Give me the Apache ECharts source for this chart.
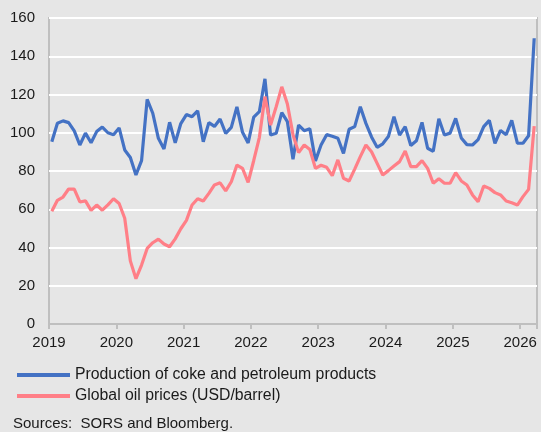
<!DOCTYPE html>
<html>
<head>
<meta charset="utf-8">
<script src="https://cdn.jsdelivr.net/npm/echarts@6/dist/echarts.min.js"></script>
<style>
  html, body { margin: 0; padding: 0; background: #e6e6e6; }
  #chart { width: 541px; height: 432px; }
</style>
</head>
<body>
<div id="chart"></div>
<script>
// monthly data, Jan 2019 .. Mar 2026
var startYear = 2019;
var yearLabels = ['2019', '2020', '2021', '2022', '2023', '2024', '2025', '2026'];

var production = [
  95.3, 105, 106.2, 105.3, 101, 93.6, 99.8, 94.8, 100.6, 103, 100, 99,
  102.5, 91, 87.1, 77.9, 85.4, 117.5, 110.2, 97.1, 91.5, 105.5, 94.7, 104.8,
  109.5, 108.4, 111.5, 95.3, 105.3, 103.3, 107.2, 99.7, 102.8, 113.5, 100.2, 94.7,
  108.2, 111, 128.2, 98.8, 99.7, 110.5, 105.8, 86.1, 104, 101.1, 102.1, 85.3,
  93.6, 99, 98.2, 97.1, 89.2, 101.8, 103.2, 113.6, 104.9, 97.8, 92.4, 94.2,
  98, 108.4, 98.8, 103.2, 93.3, 95.8, 105.4, 91.9, 90.3, 107.3, 98.8, 99.8,
  107.5, 97.3, 93.8, 93.6, 96.4, 103.2, 106.5, 94.5, 101.2, 99, 106.5, 94.6,
  94.5, 98.4, 149.4
];

var oilPrice = [
  59, 64.7, 66.4, 70.6, 70.5, 63.8, 64.4, 59.4, 62.2, 59.5, 62.3, 65.5,
  63, 55.3, 33, 23.7, 30.8, 39.5, 42.5, 44.4, 41.8, 40.4, 44.5, 49.8,
  54.2, 62.2, 65.5, 64.3, 68.3, 72.7, 73.8, 69.6, 74.4, 83.1, 81.4, 74,
  85.5, 97.5, 118.9, 104, 113.6, 124, 115, 99, 89.6, 93.6, 91.3, 81.4,
  83, 81.9, 77.6, 85.8, 76.2, 74.8, 81, 87.5, 93.6, 90.1, 84, 77.9,
  80.2, 82.6, 84.9, 90.5, 82.3, 82.3, 85.4, 81.4, 73.6, 76, 73.6, 73.6,
  79.1, 74.8, 72.7, 67.5, 64, 72.2, 70.9, 68.7, 67.5, 64.3, 63.4, 62.2,
  66.6, 70.4, 103.5
];

function toPoints(arr) {
  var out = [];
  for (var i = 0; i < arr.length; i++) {
    out.push([i + 0.5, arr[i]]);
  }
  return out;
}

var font = 'Liberation Sans, Arial, sans-serif';
var gray = '#bfbfbf';

var option = {
  animation: false,
  backgroundColor: '#e6e6e6',
  textStyle: { fontFamily: font },
  title: {
    text: 'Sources:  SORS and Bloomberg.',
    left: 13,
    top: 416,
    padding: 0,
    textStyle: { fontSize: 15, fontWeight: 'normal', color: '#1a1a1a', fontFamily: font }
  },
  legend: {
    orient: 'vertical',
    left: 17,
    top: 367,
    padding: 0,
    itemGap: 5,
    itemWidth: 53,
    itemHeight: 4,
    icon: 'rect',
    textStyle: { fontSize: 15.8, color: '#1a1a1a', fontFamily: font },
    data: ['Production of coke and petroleum products', 'Global oil prices (USD/barrel)']
  },
  grid: {
    left: 49,
    right: 4,
    top: 18,
    bottom: 108,
    show: true,
    backgroundColor: '#e6e6e6',
    borderColor: gray,
    borderWidth: 2
  },
  xAxis: {
    type: 'value',
    min: 0,
    max: 87,
    interval: 12,
    axisLine: { show: true, lineStyle: { color: gray, width: 2 } },
    axisTick: { show: true, length: 5, lineStyle: { color: gray, width: 2 } },
    splitLine: { show: false },
    axisLabel: {
      margin: 11,
      fontSize: 15,
      color: '#1a1a1a',
      fontFamily: font,
      formatter: function (v) {
        if (v % 12 !== 0) return '';
        return yearLabels[v / 12] || '';
      }
    }
  },
  yAxis: {
    type: 'value',
    min: 0,
    max: 160,
    interval: 20,
    axisLine: { show: false },
    axisTick: { show: false },
    splitLine: { show: true, lineStyle: { color: '#ffffff', width: 2 } },
    axisLabel: { margin: 14, fontSize: 15, color: '#1a1a1a', fontFamily: font }
  },
  series: [
    {
      name: 'Production of coke and petroleum products',
      type: 'line',
      data: toPoints(production),
      showSymbol: false,
      symbol: 'none',
      z: 2,
      itemStyle: { color: '#4472c4' },
      lineStyle: { color: '#4472c4', width: 3.2 }
    },
    {
      name: 'Global oil prices (USD/barrel)',
      type: 'line',
      data: toPoints(oilPrice),
      showSymbol: false,
      symbol: 'none',
      z: 3,
      itemStyle: { color: '#ff7f87' },
      lineStyle: { color: '#ff7f87', width: 3.2 }
    }
  ]
};

echarts.init(document.getElementById('chart')).setOption(option);
</script>
</body>
</html>
